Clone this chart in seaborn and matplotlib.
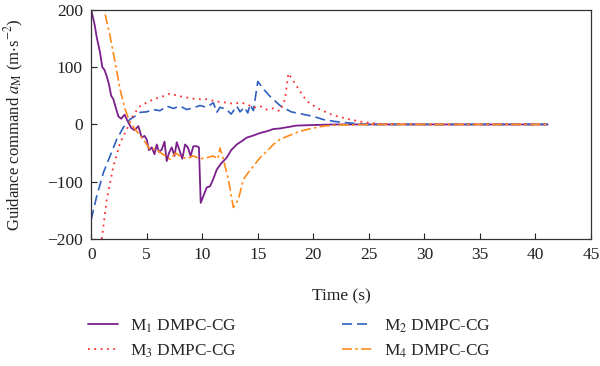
import numpy as np
import pandas as pd
import matplotlib
matplotlib.use('Agg')
import matplotlib.pyplot as plt
import seaborn as sns

# guidance command of each missile
t1 = [0, 0.3, 0.5, 0.8, 1.0, 1.2, 1.4, 1.6, 1.8, 2.0, 2.2, 2.45, 2.7, 3.0, 3.3,
      3.6, 3.9, 4.25, 4.55, 4.8, 5.0, 5.2, 5.45, 5.7, 5.9, 6.1, 6.35, 6.6, 6.8, 7.0,
      7.25, 7.5, 7.7, 7.95, 8.2, 8.45, 8.7, 8.95, 9.2, 9.5, 9.7, 9.86, 10.1, 10.4, 10.7,
      11.0, 11.3, 11.7, 12.2, 12.6, 13.1, 13.5, 14.0, 14.5, 15.2, 15.8, 16.4, 17.0, 18.5, 20,
      22, 25, 30, 35, 41.1]
y1 = [200, 175, 152, 125, 100, 95, 84, 70, 50, 44, 30, 14, 10, 17, 5,
      -6, -10, -3, -23, -20, -26, -45, -40, -52, -35, -48, -44, -30, -64, -50,
      -40, -55, -31, -45, -60, -35, -40, -55, -38, -38, -40, -137, -125, -110, -108,
      -95, -79, -68, -58, -45, -35, -30, -23, -20, -15, -12, -8, -7, -2, -1,
      0, 0, 0, 0, 0]

t2 = [0, 0.5, 1.1, 1.7, 2.3, 2.9, 3.5, 4.0, 4.4, 5.0, 5.6, 6.2, 6.8, 7.4, 8.0,
      8.6, 9.2, 9.8, 10.4, 11.0, 11.3, 11.6, 12.2, 12.6, 13.1, 13.4, 13.8, 14.1, 14.3, 14.6,
      15.0, 15.5, 16.1, 17.0, 18.0, 19.0, 20.0, 21.0, 22.0, 23.5, 25, 30, 35, 41.1]
y2 = [-166, -125, -84, -55, -26, -5, 9, 15, 21, 22, 26, 24, 32, 28, 32,
      26, 29, 33, 30, 38, 21, 30, 26, 18, 32, 22, 30, 20, 35, 24,
      75, 62, 49, 33, 22, 18, 14, 8, 5, 2, 0, 0, 0, 0]

t3 = [0.95, 1.4, 2.0, 2.6, 3.2, 3.8, 4.4, 5.0, 5.6, 6.3, 7.1, 7.8, 8.6, 9.5, 10.4,
      11.3, 12.2, 12.8, 13.4, 14.0, 14.6, 15.2, 15.8, 16.4, 17.0, 17.45, 17.75, 18.2, 18.8, 19.4,
      20.0, 20.6, 21.8, 23.0, 24.5, 26, 30, 35, 41.1]
y3 = [-200, -131, -73, -32, -9, 17, 32, 38, 44, 48, 54, 50, 47, 44, 44,
      40, 38, 36, 38, 36, 29, 32, 26, 28, 23, 44, 89, 76, 58, 41,
      33, 26, 16, 10, 4, 1, 0, 0, 0]

t4 = [1.26, 1.7, 2.16, 2.6, 3.06, 3.5, 4.1, 4.7, 5.3, 5.8, 6.2, 6.7, 7.1, 7.6, 8.0,
      8.6, 9.2, 9.8, 10.4, 11.0, 11.4, 11.6, 11.9, 12.35, 12.8, 13.25, 13.7, 14.1, 14.6, 15.2,
      15.8, 16.4, 17.0, 18.0, 18.8, 19.8, 20.9, 22, 25, 30, 35, 41.1]
y4 = [192, 154, 108, 61, 26, 3, -12, -26, -44, -42, -49, -55, -61, -50, -55,
      -60, -55, -60, -58, -55, -60, -41, -61, -96, -145, -131, -96, -85, -73, -58,
      -47, -35, -26, -18, -12, -7, -3, -1, 0, 0, 0, 0]

labels = [r'M$_1$ DMPC-CG', r'M$_2$ DMPC-CG', r'M$_3$ DMPC-CG', r'M$_4$ DMPC-CG']

sns.set_style('white')
plt.rcParams['font.family'] = ['Liberation Serif', 'DejaVu Serif']
plt.rcParams['mathtext.fontset'] = 'stix'

fig, ax = plt.subplots(figsize=(6, 3.66), dpi=100)
fig.subplots_adjust(left=0.152, right=0.985, top=0.973, bottom=0.347)

# each missile gets its own colour and line style
sns.lineplot(x=t1, y=y1, ax=ax, color='#7b1f8c', lw=1.3, sort=False, estimator=None)
sns.lineplot(x=t2, y=y2, ax=ax, color='#2f5fc0', lw=1.2, sort=False,
             estimator=None, linestyle=(0, (6, 3)))
sns.lineplot(x=t3, y=y3, ax=ax, color='#ff2e2e', lw=1.3, sort=False,
             estimator=None, linestyle=(0, (1, 2.5)))
sns.lineplot(x=t4, y=y4, ax=ax, color='#ff8a1c', lw=1.2, sort=False,
             estimator=None, linestyle=(0, (6, 2, 1.5, 2)))

lines = ax.get_lines()
for ln, lab in zip(lines, labels):
    ln.set_label(lab)

ax.set_xlim(0, 45)
ax.set_ylim(-200, 200)
ax.set_xticks(np.arange(0, 46, 5))
ax.set_yticks([-200, -100, 0, 100, 200])
ax.set_yticklabels(['\u2212200', '\u2212100', '0', '100', '200'])
ax.tick_params(direction='in', length=4, width=0.8, labelsize=12.5, colors='#222222',
               top=False, right=False, bottom=True, left=True, pad=6)
for s in ax.spines.values():
    s.set_color('#333333')
    s.set_linewidth(0.9)

ax.set_xlabel('Time (s)', fontsize=12.5, color='#222222')
ax.xaxis.set_label_coords(0.5, -0.215)
ax.set_ylabel(r'Guidance command $a_{\mathrm{M}}$ (m$\cdot$s$^{-2}$)', fontsize=12,
              color='#222222')
ax.yaxis.set_label_coords(-0.13, 0.5)

order = [lines[0], lines[2], lines[1], lines[3]]
fig.legend(order, [l.get_label() for l in order], ncol=2, loc='center',
           bbox_to_anchor=(289.5 / 600, 1 - 338.5 / 366), frameon=False, fontsize=12.4,
           handlelength=1.75, handletextpad=0.7, columnspacing=6.1, labelspacing=0.45)

plt.savefig('out.png', dpi=100)
